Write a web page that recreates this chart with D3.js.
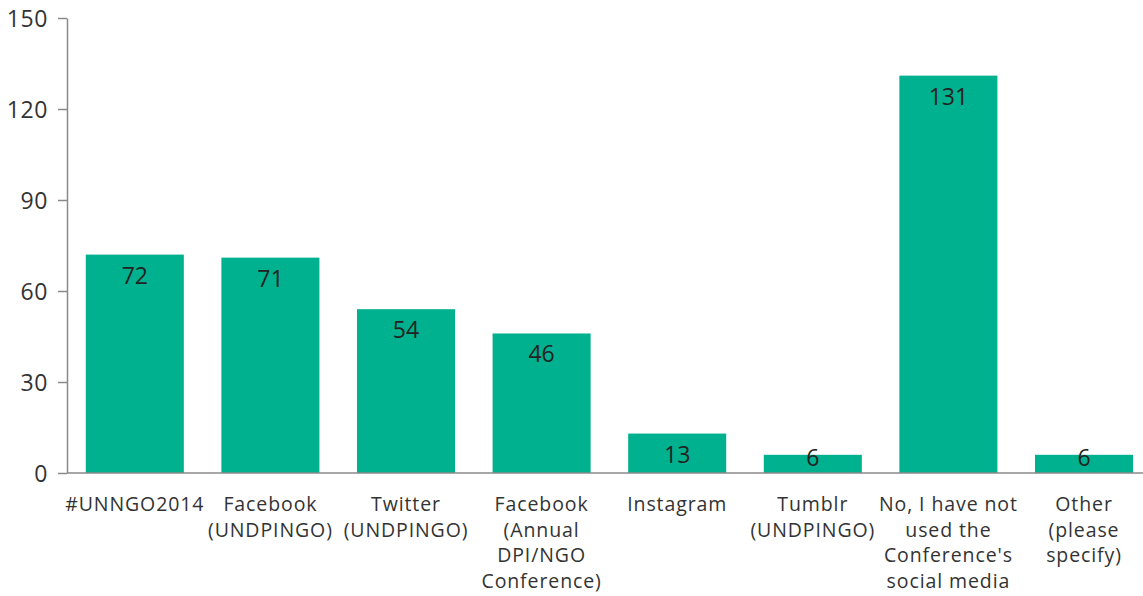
<!DOCTYPE html>
<html>
<head>
<meta charset="utf-8">
<script src="https://cdn.jsdelivr.net/npm/d3@7"></script>
<style>
  body { margin: 0; background: #fff; }
  text { font-family: "Open Sans", "Lato", sans-serif; fill: #333; }
  .axis path, .axis line { stroke: #8a8a8a; stroke-width: 1.5; }
</style>
</head>
<body>
<div id="chart"></div>
<script>
const categories = [
  ["#UNNGO2014"],
  ["Facebook", "(UNDPINGO)"],
  ["Twitter", "(UNDPINGO)"],
  ["Facebook", "(Annual", "DPI/NGO", "Conference)"],
  ["Instagram"],
  ["Tumblr", "(UNDPINGO)"],
  ["No, I have not", "used the", "Conference's", "social media"],
  ["Other", "(please", "specify)"]
];
const values = [72, 71, 54, 46, 13, 6, 131, 6];
const yTicks = [0, 30, 60, 90, 120, 150];

const width = 1143, height = 596;
const marginLeft = 67, plotTop = 18, plotBottom = 473;

const svg = d3.select("#chart").append("svg")
  .attr("width", width)
  .attr("height", height);

const x = d3.scaleBand()
  .domain(d3.range(values.length))
  .range([marginLeft, marginLeft + 8 * 135.6])
  .paddingInner(0.277)
  .paddingOuter(0.1385);

const y = d3.scaleLinear()
  .domain([0, 150])
  .range([plotBottom, plotTop]);

// y axis
const yAxis = svg.append("g")
  .attr("class", "axis")
  .attr("transform", `translate(${marginLeft},0)`)
  .call(d3.axisLeft(y).tickValues(yTicks).tickSize(9).tickPadding(10).tickSizeOuter(0));
yAxis.selectAll("text")
  .style("font-size", "23px")
  .style("letter-spacing", "0.6px")
  .attr("dy", "0.36em");

// bars
svg.append("g")
  .selectAll("rect")
  .data(values)
  .enter()
  .append("rect")
  .attr("x", (d, i) => x(i))
  .attr("y", d => y(d))
  .attr("width", x.bandwidth())
  .attr("height", d => y(0) - y(d))
  .attr("fill", "#00b18f");

// value labels (kept inside plot for short bars)
svg.append("g")
  .selectAll("text")
  .data(values)
  .enter()
  .append("text")
  .attr("x", (d, i) => x(i) + x.bandwidth() / 2)
  .attr("y", d => Math.min(y(d) + 29, plotBottom - 7))
  .attr("text-anchor", "middle")
  .style("font-size", "23px")
  .style("fill", "#222")
  .text(d => d);

// x axis line
svg.append("line")
  .attr("x1", marginLeft)
  .attr("x2", width)
  .attr("y1", y(0))
  .attr("y2", y(0))
  .attr("stroke", "#8a8a8a")
  .attr("stroke-width", 1.5);

// category labels
const cat = svg.append("g")
  .selectAll("text")
  .data(categories)
  .enter()
  .append("text")
  .attr("text-anchor", "middle")
  .attr("transform", (d, i) => `translate(${x(i) + x.bandwidth() / 2},${plotBottom + 38})`)
  .style("font-size", "19.5px")
  .style("letter-spacing", "0.9px");

cat.selectAll("tspan")
  .data(d => d)
  .enter()
  .append("tspan")
  .attr("x", 0)
  .attr("dy", (d, i) => i === 0 ? 0 : 25.5)
  .text(d => d);
</script>
</body>
</html>
